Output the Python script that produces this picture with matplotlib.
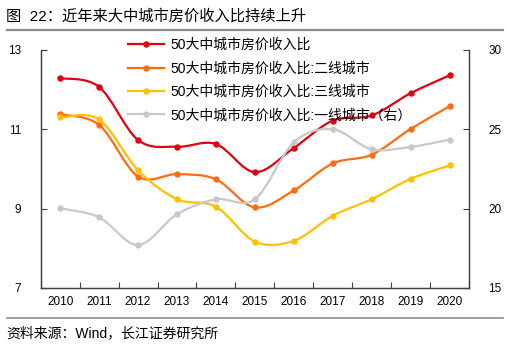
import numpy as np
import matplotlib
matplotlib.use("Agg")
import matplotlib.pyplot as plt
from matplotlib.path import Path
from matplotlib.patches import PathPatch
from matplotlib.lines import Line2D

plt.rcParams['font.family'] = ['Liberation Sans', 'Noto Sans CJK SC', 'DejaVu Sans']

years = ['2010', '2011', '2012', '2013', '2014', '2015', '2016', '2017', '2018', '2019', '2020']
ratio_all = [12.29, 12.07, 10.73, 10.56, 10.63, 9.92, 10.53, 11.22, 11.35, 11.91, 12.36]
ratio_tier2 = [11.38, 11.11, 9.81, 9.87, 9.74, 9.03, 9.46, 10.14, 10.36, 11.01, 11.58]
ratio_tier3 = [11.30, 11.25, 9.97, 9.24, 9.05, 8.17, 8.19, 8.82, 9.24, 9.75, 10.09]
ratio_tier1 = [20.02, 19.46, 17.71, 19.65, 20.59, 20.59, 24.18, 25.00, 23.74, 23.89, 24.35]

labels = ['50大中城市房价收入比',
          '50大中城市房价收入比:二线城市',
          '50大中城市房价收入比:三线城市',
          '50大中城市房价收入比:一线城市（右）']
colors = ['#E3000F', '#FF6B12', '#FFC000', '#C8C8C8']


def smooth_path(x, y):
    # cubic bezier through every point, tangents from neighbouring points
    pts = np.column_stack([x, y]).astype(float)
    ext = np.vstack([pts[0], pts, pts[-1]])
    verts = [pts[0]]
    codes = [Path.MOVETO]
    for i in range(len(pts) - 1):
        p0, p1, p2, p3 = ext[i], ext[i + 1], ext[i + 2], ext[i + 3]
        c1 = p1 + (p2 - p0) / 6.0
        c2 = p2 - (p3 - p1) / 6.0
        verts += [c1, c2, p2]
        codes += [Path.CURVE4] * 3
    return Path(verts, codes)


def draw_series(ax, y, color):
    x = np.arange(len(y))
    patch = PathPatch(smooth_path(x, y), facecolor='none', edgecolor=color,
                      lw=1.6, capstyle='round', joinstyle='round')
    ax.add_patch(patch)
    ax.plot(x, y, 'o', color=color, ms=3.6, mec=color)


fig = plt.figure(figsize=(5.07, 3.49), dpi=100)
ax = fig.add_axes([40.7 / 507, 1 - 288 / 349, 428.3 / 507, 238 / 349])
ax2 = ax.twinx()

for vals, c in zip([ratio_all, ratio_tier2, ratio_tier3], colors[:3]):
    draw_series(ax, vals, c)
draw_series(ax2, ratio_tier1, colors[3])

ax.set_xlim(-0.5, len(years) - 0.5)
ax.set_ylim(7, 13)
ax.set_yticks([7, 9, 11, 13])
ax2.set_ylim(15, 30)
ax2.set_yticks([15, 20, 25, 30])

ax.set_xticks(np.arange(len(years)))
ax.set_xticklabels(years)
ax.set_xticks(np.arange(-0.5, len(years)), minor=True)
ax.tick_params(axis='x', which='major', length=0, pad=6, labelsize=8.5)
ax.tick_params(axis='x', which='minor', length=4, width=0.8, color='#404040', direction='in')
ax.tick_params(axis='y', length=4, width=0.8, color='#404040', labelsize=8.5, pad=14,
               direction='in')
ax2.tick_params(axis='y', length=4, width=0.8, color='#404040', labelsize=8.5, pad=14,
                direction='in')

for a in (ax, ax2):
    a.spines['top'].set_visible(False)
    for s in ('left', 'right', 'bottom'):
        a.spines[s].set_color('#404040')
        a.spines[s].set_linewidth(0.9)

handles = [Line2D([], [], color=c, lw=1.6, marker='o', ms=3.6) for c in colors]
leg = ax2.legend(handles, labels, loc='upper left', bbox_to_anchor=(128 / 507, 1 - 38 / 349),
                 bbox_transform=fig.transFigure, frameon=False, fontsize=10,
                 handlelength=2.6, handletextpad=0.45, labelspacing=0.68, borderaxespad=0,
                 borderpad=0)

fig.text(6 / 507, 1 - 16 / 349, '图  22：近年来大中城市房价收入比持续上升', fontsize=11,
         va='center', ha='left', color='#000000')
fig.add_artist(Line2D([7 / 507, 503 / 507], [1 - 29.5 / 349] * 2, color='#8C8C8C', lw=1.6))
fig.add_artist(Line2D([7 / 507, 503 / 507], [1 - 318 / 349] * 2, color='#8C8C8C', lw=1.2))
fig.text(6 / 507, 1 - 333 / 349, '资料来源：Wind，长江证券研究所', fontsize=10,
         va='center', ha='left', color='#000000')

fig.savefig('out.png', dpi=100)
